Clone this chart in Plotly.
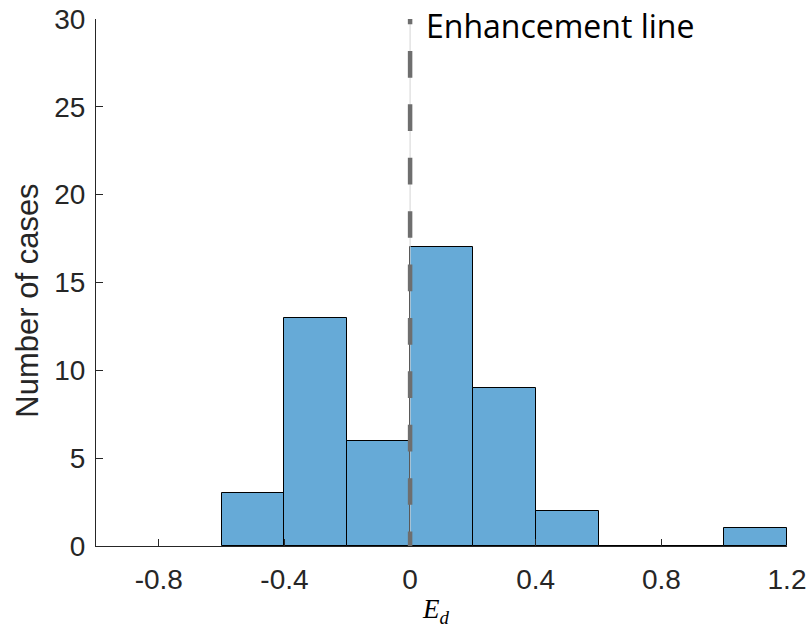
import plotly.graph_objects as go

# Data
bin_edges = [-0.6, -0.4, -0.2, 0.0, 0.2, 0.4, 0.6, 0.8, 1.0, 1.2]
counts = [3, 13, 6, 17, 9, 2, 0, 0, 1]
x_tick_vals = [-0.8, -0.4, 0, 0.4, 0.8, 1.2]
x_tick_labels = ["-0.8", "-0.4", "0", "0.4", "0.8", "1.2"]
y_tick_vals = [0, 5, 10, 15, 20, 25, 30]
y_tick_labels = ["0", "5", "10", "15", "20", "25", "30"]
enhancement_x = 0.0

centers = [(a + b) / 2 for a, b in zip(bin_edges[:-1], bin_edges[1:])]
widths = [b - a for a, b in zip(bin_edges[:-1], bin_edges[1:])]

fig = go.Figure()
fig.add_trace(go.Bar(
    x=centers, y=counts, width=widths,
    marker=dict(color="#66AAD7", line=dict(color="#000000", width=1)),
    showlegend=False, hoverinfo="x+y",
))

axis_color = "#262626"
tick_font = dict(family="Liberation Sans, Arial, sans-serif", size=28, color=axis_color)

fig.update_layout(
    width=809, height=630,
    margin=dict(l=96, r=22, t=19, b=84),
    plot_bgcolor="white", paper_bgcolor="white",
    bargap=0,
    xaxis=dict(
        range=[-1, 1.2], tickvals=x_tick_vals, ticktext=x_tick_labels,
        showgrid=False, zeroline=False, showline=True, linecolor=axis_color, linewidth=1,
        ticks="inside", ticklen=7, tickcolor=axis_color, tickwidth=1,
        tickfont=tick_font, ticklabelstandoff=8, automargin=False,
    ),
    yaxis=dict(
        range=[0, 30], tickvals=y_tick_vals, ticktext=y_tick_labels,
        showgrid=False, zeroline=False, showline=True, linecolor=axis_color, linewidth=1,
        ticks="inside", ticklen=7, tickcolor=axis_color, tickwidth=1,
        tickfont=tick_font, ticklabelstandoff=4, automargin=False,
    ),
)

# Enhancement line: thin light line + dashed thick gray line
fig.add_shape(type="line", xref="x", yref="y", x0=enhancement_x, x1=enhancement_x,
              y0=0, y1=30.45, line=dict(color="#d4d4d4", width=1))
fig.add_shape(type="line", xref="x", yref="y", x0=enhancement_x, x1=enhancement_x,
              y0=29.70, y1=30.45, line=dict(color="#6e6e6e", width=4.5))
fig.add_shape(type="line", xref="x", yref="y", x0=enhancement_x, x1=enhancement_x,
              y0=28.18, y1=0, line=dict(color="#6e6e6e", width=4.5, dash="26.7px,26.7px"))

fig.add_annotation(text="Enhancement line", xref="paper", yref="paper",
                   x=0.4747, y=0.987, xanchor="left", yanchor="middle", showarrow=False,
                   font=dict(family="Open Sans, Noto Sans, sans-serif", size=32, color="#000000"))

fig.add_annotation(text="Number of cases", xref="paper", yref="paper",
                   x=-0.099, y=0.4647, xanchor="center", yanchor="middle", textangle=-90,
                   showarrow=False,
                   font=dict(family="Liberation Sans, Arial, sans-serif", size=31, color=axis_color))

fig.add_annotation(text="<i>E</i><sub><i>d</i></sub>", xref="paper", yref="paper",
                   x=0.492, y=-0.124, xanchor="center", yanchor="middle", showarrow=False,
                   font=dict(family="Liberation Serif, Times New Roman, serif", size=27, color="#000000"))

fig.write_html("out.html")
